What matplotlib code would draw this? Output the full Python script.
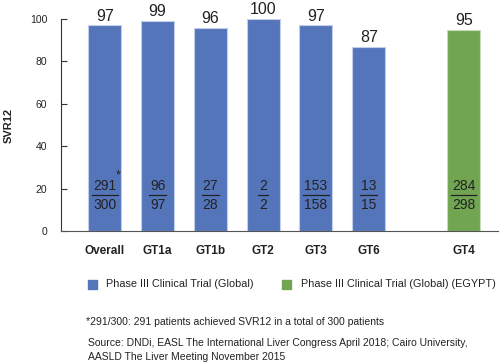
import numpy as np
import matplotlib.pyplot as plt

plt.rcParams['font.family'] = ['Liberation Sans', 'DejaVu Sans']

# data
categories = ['Overall', 'GT1a', 'GT1b', 'GT2', 'GT3', 'GT6', 'GT4']
svr12 = [97, 99, 96, 100, 97, 87, 95]
achieved = [291, 96, 27, 2, 153, 13, 284]
total = [300, 97, 28, 2, 158, 15, 298]
series = ['global', 'global', 'global', 'global', 'global', 'global', 'egypt']
legend_labels = {'global': 'Phase III Clinical Trial (Global)',
                 'egypt': 'Phase III Clinical Trial (Global) (EGYPT)'}

colors = {'global': '#5575BB', 'egypt': '#71A551'}
edges = {'global': '#C3CFEA', 'egypt': '#C6DDB8'}
txt = '#222222'

x = np.array([0, 1, 2, 3, 4, 5, 6.8])

fig = plt.figure(figsize=(5, 3.63), dpi=100)
ax = fig.add_axes([0.122, 0.3636, 0.874, 0.584])

for xi, v, s in zip(x, svr12, series):
    ax.bar(xi, v, width=0.625, color=colors[s], edgecolor=edges[s], linewidth=0.8)
    ax.text(xi, v + 0.8, str(v), ha='center', va='bottom', fontsize=11.5, color=txt, clip_on=False)

# fractions inside bars
px_unit = 52.8  # pixels per x unit
for i, (xi, a, t) in enumerate(zip(x, achieved, total)):
    ax.text(xi, 21.2, str(a), ha='center', va='center', fontsize=10, color=txt)
    ax.text(xi, 12.2, str(t), ha='center', va='center', fontsize=10, color=txt)
    nd = max(len(str(a)), len(str(t)))
    half = (nd * 7.8 + 2) / 2 / px_unit
    ax.plot([xi - half, xi + half], [17.0, 17.0], color=txt, lw=0.9)
    if i == 0:
        ax.text(xi + 0.2, 26.0, '*', ha='left', va='center', fontsize=9, color=txt)

ax.set_xlim(-0.83, 7.45)
ax.set_ylim(0, 100)
ax.set_yticks([0, 20, 40, 60, 80, 100])
ax.tick_params(axis='y', direction='in', length=4, width=0.8, labelsize=7.5,
               labelcolor=txt, color='#333333', pad=10)
ax.set_xticks(x)
ax.set_xticklabels(categories, fontsize=8.5, fontweight='bold', color=txt)
ax.tick_params(axis='x', length=0, pad=10)
for side in ['top', 'right']:
    ax.spines[side].set_visible(False)
ax.spines['left'].set_color('#333333')
ax.spines['bottom'].set_color('#555555')
ax.spines['left'].set_linewidth(0.8)
ax.spines['bottom'].set_linewidth(0.8)
fig.text(0.018, 0.655, 'SVR12', rotation=90, ha='center', va='center',
         fontsize=8, fontweight='bold', color=txt)

# legend
fig.patches.append(plt.Rectangle((88 / 500, 1 - 289 / 363), 9 / 500, 9 / 363,
                                 transform=fig.transFigure, color=colors['global']))
fig.text(106 / 500, 1 - 284 / 363, legend_labels['global'], fontsize=7.8,
         va='center', ha='left', color=txt)
fig.patches.append(plt.Rectangle((282 / 500, 1 - 289 / 363), 9 / 500, 9 / 363,
                                 transform=fig.transFigure, color=colors['egypt']))
fig.text(301 / 500, 1 - 284 / 363, legend_labels['egypt'], fontsize=7.8,
         va='center', ha='left', color=txt)

fig.text(86 / 500, 1 - 322 / 363,
         '*291/300: 291 patients achieved SVR12 in a total of 300 patients',
         fontsize=7.5, va='center', ha='left', color=txt)
fig.text(88 / 500, 1 - 343 / 363,
         'Source: DNDi, EASL The International Liver Congress April 2018; Cairo University,',
         fontsize=7.5, va='center', ha='left', color=txt)
fig.text(88 / 500, 1 - 357 / 363, 'AASLD The Liver Meeting November 2015',
         fontsize=7.5, va='center', ha='left', color=txt)

plt.savefig('out.png', dpi=100)
